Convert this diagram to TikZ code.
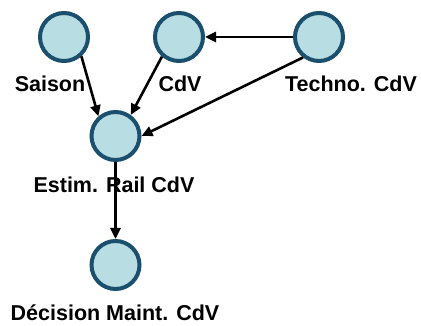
\documentclass[tikz,border=0pt]{standalone}
\usepackage{fontspec}
\setmainfont{Liberation Sans}
\usetikzlibrary{arrows.meta}
\definecolor{nodefill}{HTML}{B8DDE2}
\definecolor{nodeline}{HTML}{1B4F6E}
\tikzset{
  varnode/.style={circle, draw=nodeline, fill=nodefill, line width=4pt, minimum size=48pt, inner sep=0pt},
  varlabel/.style={font=\bfseries\fontsize{21.5}{24}\selectfont, inner sep=0pt, anchor=center},
  link/.style={line width=2.6pt, -{Triangle[length=11pt,width=10pt]}}
}
\begin{document}
\begin{tikzpicture}[x=1pt,y=1pt]
\useasboundingbox (0,0) rectangle (421,326);
\node[varnode] (S) at (64,289) {};
\node[varnode] (C) at (179,289) {};
\node[varnode] (T) at (319,289) {};
\node[varnode] (E) at (115.5,190) {};
\node[varnode] (D) at (115.5,61) {};
\node[varlabel] (lS) at (50,242) {Saison};
\node[varlabel] (lC) at (180,242) {CdV};
\node[varlabel] (lT) at (351,242) {Techno. CdV};
\node[varlabel] (lE) at (114,141) {Estim. Rail CdV};
\node[varlabel] (lD) at (115,13) {Décision Maint. CdV};
\draw[link] (S.-48) -- (E.131);
\draw[link] (C.229) -- (E.54);
\draw[link] (T.232) -- (E.east);
\draw[link] (T.west) -- (C.east);
\draw[link] (E.south) -- (D.north);
\end{tikzpicture}
\end{document}
